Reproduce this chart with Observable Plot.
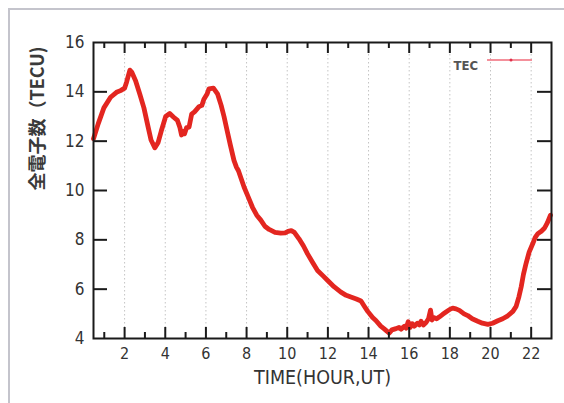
<!DOCTYPE html>
<html>
<head>
<meta charset="utf-8">
<script src="https://cdn.jsdelivr.net/npm/d3@7"></script>
<script src="https://cdn.jsdelivr.net/npm/@observablehq/plot@0.6"></script>
<style>
  html, body { margin: 0; padding: 0; background: #ffffff; }
  #wrap { position: relative; width: 564px; height: 403px; overflow: hidden; }
  #border { position: absolute; left: 8px; top: 8px; width: 600px; height: 500px;
            border-top: 2px solid #c4c4cc; border-left: 2px solid #c4c4cc; }
  #chart { position: absolute; left: 0; top: 0; }
</style>
</head>
<body>
<div id="wrap"><div id="border"></div><div id="chart"></div></div>
<script>
const hours = [0.47,0.7,0.98,1.31,1.6,1.8,2.0,2.1,2.26,2.35,2.54,2.75,2.95,3.15,3.3,3.49,3.65,3.8,4.02,4.22,4.4,4.6,4.72,4.8,4.86,4.95,5.05,5.17,5.3,5.45,5.66,5.8,5.9,6.05,6.15,6.37,6.57,6.75,6.89,7.05,7.2,7.38,7.5,7.6,7.88,8.1,8.29,8.5,8.7,8.9,9.11,9.4,9.68,9.9,10.04,10.2,10.35,10.58,10.8,11.0,11.25,11.49,11.75,11.99,12.3,12.64,12.9,13.13,13.4,13.63,13.8,13.96,14.2,14.36,14.6,14.77,14.9,15.02,15.15,15.35,15.5,15.6,15.76,15.85,15.95,16.05,16.15,16.25,16.4,16.5,16.58,16.7,16.83,16.95,17.05,17.12,17.2,17.35,17.49,17.65,17.81,18.0,18.14,18.3,18.47,18.7,18.88,19.1,19.37,19.6,19.87,20.1,20.36,20.6,20.85,21.1,21.26,21.4,21.51,21.62,21.75,21.9,22.08,22.2,22.33,22.5,22.66,22.8,22.95];
const tec = [12.1,12.7,13.35,13.78,13.98,14.05,14.15,14.4,14.88,14.8,14.45,13.9,13.35,12.6,12.05,11.73,11.95,12.4,13.0,13.12,12.98,12.84,12.55,12.25,12.4,12.3,12.55,12.57,13.1,13.2,13.4,13.45,13.7,13.9,14.12,14.15,13.92,13.45,13.0,12.4,11.85,11.22,10.95,10.8,10.13,9.7,9.32,9.0,8.8,8.55,8.42,8.3,8.27,8.28,8.34,8.37,8.3,8.04,7.75,7.43,7.08,6.76,6.55,6.35,6.1,5.88,5.75,5.68,5.6,5.52,5.3,5.1,4.85,4.73,4.5,4.39,4.3,4.22,4.35,4.4,4.45,4.38,4.5,4.42,4.68,4.45,4.6,4.5,4.62,4.55,4.7,4.55,4.65,4.8,5.15,4.75,4.85,4.8,4.88,4.98,5.07,5.18,5.23,5.2,5.14,5.0,4.93,4.8,4.7,4.62,4.57,4.62,4.72,4.8,4.92,5.1,5.3,5.7,6.1,6.6,7.05,7.5,7.85,8.1,8.25,8.35,8.48,8.7,9.0];
const xMajorTicks = [2,4,6,8,10,12,14,16,18,20,22];
const xMinorTicks = [1,3,5,7,9,11,13,15,17,19,21];
const yTicks = [4,6,8,10,12,14,16];
const yInnerTicks = [6,8,10,12,14];
const xLabel = "TIME(HOUR,UT)";
const yLabel = "全電子数（TECU)";
const seriesName = "TEC";

const data = hours.map((h, i) => ({hour: h, tec: tec[i]}));

const W = 564, H = 403, mL = 93, mR = 13, mT = 42, mB = 65;
const fw = W - mL - mR, fh = H - mT - mB;
const font = "'Liberation Sans Narrow', 'DejaVu Sans Condensed', sans-serif";

const chart = Plot.plot({
  width: W, height: H,
  marginLeft: mL, marginRight: mR, marginTop: mT, marginBottom: mB,
  x: {domain: [0.47, 23]},
  y: {domain: [4, 16]},
  style: {fontFamily: font, color: "#333", background: "transparent", overflow: "visible"},
  marks: [
    Plot.ruleX(xMajorTicks, {x: d => d, stroke: "#c4c4c4", strokeWidth: 1, strokeDasharray: "1.5,2.5"}),
    Plot.line(data, {x: "hour", y: "tec", stroke: "#e32620", strokeWidth: 4.8, strokeLinejoin: "round", strokeLinecap: "round"}),
    Plot.tickX(xMajorTicks, {x: d => d, insetTop: fh - 11, stroke: "#1a1a1a", strokeWidth: 2}),
    Plot.tickX(xMajorTicks, {x: d => d, insetBottom: fh - 11, stroke: "#1a1a1a", strokeWidth: 2}),
    Plot.tickX(xMinorTicks, {x: d => d, insetTop: fh - 6, stroke: "#1a1a1a", strokeWidth: 2}),
    Plot.tickX(xMinorTicks, {x: d => d, insetBottom: fh - 6, stroke: "#1a1a1a", strokeWidth: 2}),
    Plot.tickY(yInnerTicks, {y: d => d, insetRight: fw - 14, stroke: "#1a1a1a", strokeWidth: 2}),
    Plot.tickY(yInnerTicks, {y: d => d, insetLeft: fw - 14, stroke: "#1a1a1a", strokeWidth: 2}),
    Plot.frame({stroke: "#1a1a1a", strokeWidth: 2}),
    Plot.axisX(xMajorTicks, {tickSize: 0, tickPadding: 9, fontSize: 16, label: null, fill: "#333"}),
    Plot.axisY(yTicks, {tickSize: 0, tickPadding: 9, fontSize: 17, label: null, fill: "#333"}),
    Plot.text([xLabel], {frameAnchor: "bottom", dy: 45, fontSize: 19.5, fill: "#333"}),
    Plot.text([yLabel], {frameAnchor: "left", dx: -55, rotate: -90, fontSize: 18, fontWeight: "bold", fill: "#3a3a3a", fontFamily: "'Noto Sans CJK JP', sans-serif"}),
    Plot.text([seriesName], {frameAnchor: "top-right", dx: -98, dy: 18, textAnchor: "start", fontSize: 13, fontWeight: "bold", fill: "#555"})
  ]
});
document.getElementById("chart").appendChild(chart);

// legend sample line
const svg = d3.select(chart);
svg.append("line").attr("x1", 487).attr("x2", 532).attr("y1", 60).attr("y2", 60)
  .attr("stroke", "#f06b7a").attr("stroke-width", 1.5);
svg.append("circle").attr("cx", 511).attr("cy", 60).attr("r", 1.5).attr("fill", "#e0304a");
</script>
</body>
</html>
